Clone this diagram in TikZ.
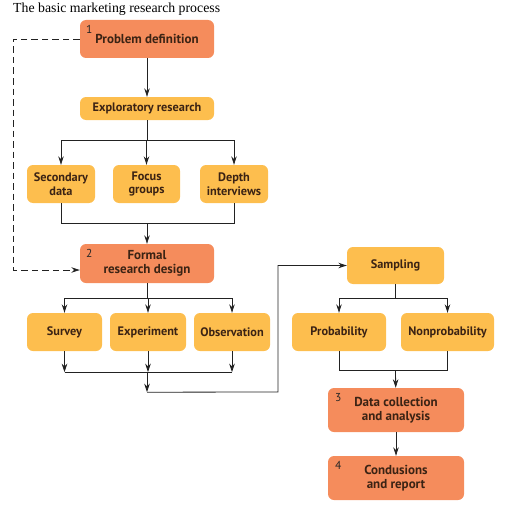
\documentclass[tikz,border=0pt]{standalone}
\usepackage{fontspec}
\setmainfont{Liberation Serif}
\newfontfamily\boxfont{PT Sans}
\usetikzlibrary{arrows.meta}
\definecolor{orangebox}{HTML}{F58C5C}
\definecolor{yellowbox}{HTML}{FDBE4E}
\definecolor{boxtext}{HTML}{3B2314}
\definecolor{linecol}{HTML}{222222}
\tikzset{
  base/.style={rounded corners=6pt, draw=none, align=center, text=boxtext,
    font=\boxfont\bfseries\fontsize{12.3}{13.5}\selectfont, inner sep=1pt},
  ybox/.style={base, fill=yellowbox},
  obox/.style={base, fill=orangebox, font=\boxfont\bfseries\fontsize{13}{14}\selectfont},
  num/.style={text=black!85, font=\boxfont\fontsize{11.5}{11.5}\selectfont, inner sep=0pt},
  conn/.style={draw=linecol, line width=0.8pt},
  arr/.style={conn, -{Stealth[length=8.5pt,width=5.5pt]}},
  dashconn/.style={arr, dash pattern=on 6.5pt off 4pt},
}
\begin{document}
\begin{tikzpicture}[x=1pt,y=-1pt]
\useasboundingbox (0,0) rectangle (521,527);
\node[font=\fontsize{13.8}{15}\selectfont, anchor=west, inner sep=0pt] (title) at (13,9) {The basic marketing research process};

\node[obox, minimum width=134, minimum height=38] (pd) at (147,39) {\raisebox{-2pt}{Problem definition}};
\node[num, anchor=north west] (n1) at ([xshift=6pt,yshift=-5pt]pd.north west) {1};
\node[ybox, minimum width=134, minimum height=23] (er) at (147,108.5) {Exploratory research};

\node[ybox, minimum width=68, minimum height=38] (sd) at (61,184) {Secondary\\data};
\node[ybox, minimum width=67, minimum height=38] (fg) at (146.5,184) {Focus\\groups};
\node[ybox, minimum width=68, minimum height=38] (di) at (234,184) {Depth\\interviews};

\node[obox, minimum width=134, minimum height=39] (frd) at (147,263.5) {Formal\\research design};
\node[num, anchor=north west] (n2) at ([xshift=6pt,yshift=-5pt]frd.north west) {2};

\node[ybox, minimum width=75, minimum height=38] (sv) at (64.5,332) {Survey};
\node[ybox, minimum width=76, minimum height=38] (ex) at (148,332) {Experiment};
\node[ybox, minimum width=76, minimum height=38] (ob) at (232,332) {Observation};

\node[ybox, minimum width=97, minimum height=37] (sa) at (395.5,265.5) {Sampling};
\node[ybox, minimum width=94, minimum height=38] (pr) at (339,332) {Probability};
\node[ybox, minimum width=93, minimum height=38] (np) at (447.5,332) {Nonprobability};

\node[obox, minimum width=136, minimum height=44] (dc) at (396,410) {Data collection\\and analysis};
\node[num, anchor=north west] (n3) at ([xshift=7pt,yshift=-5pt]dc.north west) {3};
\node[obox, minimum width=136, minimum height=44] (cr) at (396,478) {Condusions\\and report};
\node[num, anchor=north west] (n4) at ([xshift=7pt,yshift=-5pt]cr.north west) {4};

% connectors
\draw[arr] (pd) -- (er);
\draw[conn] (er.south) -- ++(0,20) coordinate (j1);
\draw[conn] (j1 -| sd) -- (j1 -| di);
\draw[arr] (j1 -| sd) -- (sd);
\draw[arr] (j1 -| fg) -- (fg);
\draw[arr] (j1 -| di) -- (di);

\coordinate (j2) at ([yshift=-20pt]fg.south);
\draw[conn] (sd.south) -- (sd.south |- j2) -- (di.south |- j2) -- (di.south);
\draw[arr] (j2 -| frd) -- (frd);

\draw[dashconn] (pd.west) -- ++(-66,0) coordinate (d1) |- ([yshift=-6.5pt]frd.west);

\draw[conn] (frd.south) -- ++(0,15) coordinate (j3);
\draw[conn] (j3 -| sv) -- (j3 -| ob);
\draw[arr] (j3 -| sv) -- (sv);
\draw[arr] (j3 -| ex) -- (ex);
\draw[arr] (j3 -| ob) -- (ob);

\coordinate (j4) at ([yshift=-21pt]ex.south);
\draw[arr] (sv.south) -- (sv.south |- j4);
\draw[arr] (ex.south) -- (ex.south |- j4);
\draw[arr] (ob.south) -- (ob.south |- j4);
\draw[conn] (sv.south |- j4) -- (ob.south |- j4);
\coordinate (j5) at ([yshift=-20pt]j4 -| frd);
\draw[arr] (j4 -| frd) -- (j5);
\coordinate (c1) at (278,392);
\draw[arr] (j5) -- (c1) |- (sa.west);

\draw[conn] (sa.south) -- ++(0,14) coordinate (j6);
\draw[conn] (j6 -| pr) -- (j6 -| np);
\draw[arr] (j6 -| pr) -- (pr);
\draw[arr] (j6 -| np) -- (np);

\coordinate (j7) at ([yshift=-19pt]pr.south -| sa);
\draw[conn] (pr.south) -- (pr.south |- j7) -- (np.south |- j7) -- (np.south);
\draw[arr] (j7) -- (dc);
\draw[arr] (dc) -- (cr);
\end{tikzpicture}
\end{document}
